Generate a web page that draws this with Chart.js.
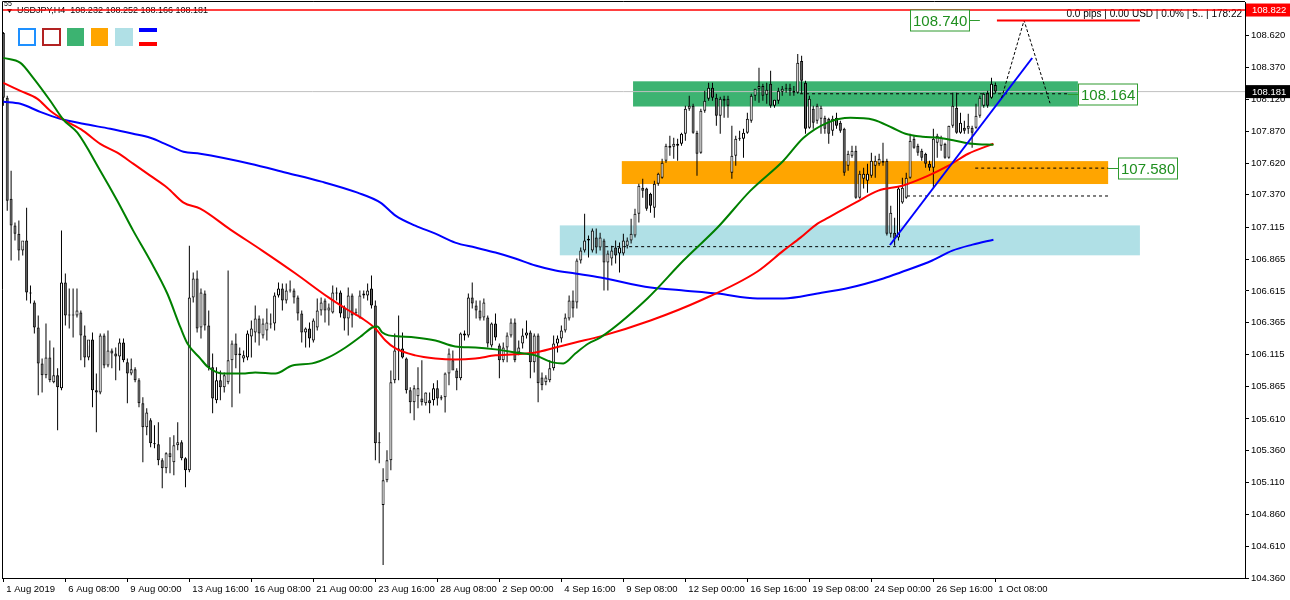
<!DOCTYPE html>
<html>
<head>
<meta charset="utf-8">
<script src="https://cdn.jsdelivr.net/npm/chart.js@4.4.0/dist/chart.umd.min.js"></script>
<style>
  html, body { margin: 0; padding: 0; background: #fff; }
</style>
</head>
<body>
<canvas id="grafico" width="1290" height="600"></canvas>
<script>
// USDJPY H4 - velas (abertura, máxima, mínima, fechamento)
const abertura = [
  108.642, 108.132, 107.340, 107.129, 107.065, 106.932, 107.011, 106.603, 106.524, 106.328,
  106.046, 105.952, 106.093, 105.897, 105.952, 105.850, 106.681, 106.422, 106.430, 106.422,
  106.446, 106.266, 106.093, 106.234, 105.834, 105.818, 106.266, 106.030, 106.148, 106.124,
  106.101, 106.210, 106.054, 105.967, 105.999, 105.913, 105.732, 105.545, 105.599, 105.418,
  105.411, 105.285, 105.222, 105.340, 105.269, 105.403, 105.426, 105.301, 105.207, 106.564,
  106.713, 106.328, 106.595, 106.344, 106.015, 105.756, 105.913, 105.858, 105.897, 106.070,
  106.202, 106.109, 106.085, 106.093, 106.258, 106.289, 106.399, 106.266, 106.305, 106.359,
  106.359, 106.580, 106.634, 106.540, 106.619, 106.619, 106.564, 106.438, 106.289, 106.320,
  106.226, 106.328, 106.462, 106.540, 106.462, 106.446, 106.603, 106.603, 106.485, 106.399,
  106.580, 106.446, 106.407, 106.580, 106.580, 106.634, 106.501, 105.418, 104.933, 105.128,
  105.285, 105.913, 106.148, 106.163, 106.085, 105.834, 105.740, 105.787, 105.771, 105.732,
  105.756, 105.756, 105.850, 105.779, 105.779, 105.967, 106.070, 105.991, 105.929, 106.281,
  106.266, 106.564, 106.501, 106.462, 106.407, 106.407, 106.187, 106.359, 106.187, 106.070,
  106.171, 106.266, 106.367, 106.132, 106.202, 106.266, 106.289, 106.054, 106.266, 105.936,
  105.897, 105.913, 106.007, 106.202, 106.242, 106.305, 106.399, 106.540, 106.524, 106.854,
  106.932, 107.011, 106.932, 107.034, 106.956, 107.011, 106.838, 106.870, 106.956, 106.909,
  106.909, 106.971, 107.011, 107.050, 107.222, 107.426, 107.419, 107.379, 107.269, 107.458,
  107.505, 107.638, 107.756, 107.748, 107.756, 107.771, 107.850, 108.046, 108.070, 107.858,
  107.701, 108.030, 108.124, 108.211, 108.132, 107.991, 108.124, 108.124, 107.544, 107.678,
  107.811, 107.811, 107.858, 107.952, 108.148, 108.203, 108.226, 108.156, 108.242, 108.070,
  108.109, 108.180, 108.203, 108.211, 108.187, 108.172, 108.422, 108.250, 107.897, 108.046,
  107.952, 107.968, 107.975, 107.968, 107.873, 107.975, 107.936, 107.889, 107.599, 107.678,
  107.717, 107.348, 107.497, 107.481, 107.521, 107.599, 107.615, 107.638, 107.638, 107.065,
  107.073, 107.034, 107.309, 107.348, 107.505, 107.811, 107.756, 107.717, 107.693, 107.615,
  107.583, 107.779, 107.756, 107.771, 107.662, 107.913, 108.054, 107.858, 107.897, 107.889,
  107.897, 107.897, 107.991, 108.070, 108.172, 108.132, 108.232
];
const maxima = [
  108.650, 108.148, 107.560, 107.152, 107.168, 106.971, 107.269, 106.658, 106.540, 106.422,
  106.085, 106.359, 106.226, 106.171, 106.007, 107.089, 106.752, 106.634, 106.634, 106.634,
  106.462, 106.344, 106.187, 106.289, 105.967, 106.281, 106.281, 106.305, 106.163, 106.171,
  106.242, 106.242, 106.085, 106.085, 106.015, 105.929, 105.779, 105.693, 105.615, 105.560,
  105.583, 105.301, 105.348, 105.466, 105.482, 105.583, 105.442, 105.309, 106.971, 106.760,
  106.776, 106.634, 106.619, 106.462, 106.124, 106.015, 105.991, 105.975, 106.776, 106.226,
  106.281, 106.171, 106.148, 106.305, 106.383, 106.501, 106.422, 106.399, 106.477, 106.438,
  106.603, 106.681, 106.673, 106.673, 106.697, 106.634, 106.580, 106.462, 106.328, 106.367,
  106.399, 106.556, 106.564, 106.556, 106.516, 106.658, 106.642, 106.619, 106.501, 106.642,
  106.595, 106.477, 106.619, 106.619, 106.673, 106.736, 106.540, 105.505, 105.222, 105.364,
  105.991, 106.281, 106.422, 106.289, 106.093, 105.858, 105.874, 106.015, 106.070, 105.818,
  105.818, 105.889, 105.913, 105.795, 105.975, 106.163, 106.148, 106.007, 106.289, 106.305,
  106.595, 106.681, 106.540, 106.540, 106.556, 106.422, 106.367, 106.438, 106.202, 106.210,
  106.289, 106.399, 106.399, 106.226, 106.320, 106.383, 106.305, 106.281, 106.281, 105.975,
  105.952, 106.070, 106.266, 106.266, 106.344, 106.438, 106.580, 106.619, 106.869, 106.956,
  107.222, 107.050, 107.105, 107.105, 107.073, 107.026, 106.932, 106.971, 107.011, 106.995,
  107.065, 107.034, 107.183, 107.261, 107.458, 107.497, 107.426, 107.387, 107.481, 107.544,
  107.654, 107.771, 107.834, 107.818, 107.810, 107.858, 108.070, 108.148, 108.085, 107.873,
  108.046, 108.187, 108.250, 108.250, 108.164, 108.140, 108.148, 108.148, 107.913, 107.834,
  107.873, 107.889, 108.015, 108.164, 108.203, 108.368, 108.242, 108.250, 108.344, 108.117,
  108.211, 108.226, 108.242, 108.242, 108.226, 108.477, 108.462, 108.266, 108.148, 108.070,
  108.085, 108.070, 107.991, 107.975, 107.991, 108.015, 107.952, 107.897, 107.717, 107.756,
  107.756, 107.560, 107.583, 107.615, 107.701, 107.678, 107.693, 107.779, 107.654, 107.285,
  107.191, 107.434, 107.505, 107.544, 107.850, 107.834, 107.771, 107.732, 107.701, 107.638,
  107.889, 107.850, 107.834, 107.779, 107.913, 108.172, 108.172, 108.015, 107.952, 108.007,
  107.913, 108.085, 108.148, 108.172, 108.187, 108.289, 108.252
];
const minima = [
  108.070, 107.246, 106.854, 107.011, 106.854, 106.893, 106.540, 106.516, 106.281, 105.795,
  105.818, 105.929, 105.897, 105.889, 105.521, 105.834, 106.344, 106.320, 106.250, 106.407,
  106.070, 106.015, 106.070, 105.701, 105.505, 105.803, 106.007, 106.015, 106.007, 105.913,
  105.991, 106.054, 105.732, 105.952, 105.897, 105.701, 105.269, 105.482, 105.387, 105.379,
  105.246, 105.065, 105.183, 105.183, 105.168, 105.364, 105.285, 105.073, 105.191, 106.524,
  106.289, 106.242, 106.305, 105.991, 105.654, 105.732, 105.756, 105.818, 105.882, 105.701,
  106.007, 105.810, 106.054, 106.070, 106.093, 106.210, 106.187, 106.242, 106.226, 106.320,
  106.305, 106.564, 106.462, 106.516, 106.603, 106.516, 106.383, 106.210, 106.171, 106.171,
  106.210, 106.305, 106.422, 106.367, 106.344, 106.438, 106.540, 106.407, 106.305, 106.266,
  106.328, 106.422, 106.399, 106.556, 106.540, 106.477, 105.285, 105.262, 104.462, 105.113,
  105.207, 105.889, 105.913, 106.085, 105.810, 105.654, 105.599, 105.693, 105.716, 105.716,
  105.654, 105.716, 105.716, 105.756, 105.661, 105.874, 105.999, 105.834, 105.913, 106.226,
  106.250, 106.477, 106.399, 106.383, 106.383, 106.171, 106.171, 106.226, 105.929, 106.054,
  106.054, 106.250, 106.054, 106.109, 106.163, 106.242, 105.929, 105.975, 105.740, 105.834,
  105.874, 105.897, 105.991, 106.132, 106.210, 106.289, 106.383, 106.407, 106.477, 106.830,
  106.917, 106.877, 106.917, 106.909, 106.932, 106.619, 106.619, 106.815, 106.830, 106.760,
  106.893, 106.948, 106.987, 107.034, 107.152, 107.348, 107.246, 107.230, 107.191, 107.442,
  107.497, 107.622, 107.678, 107.654, 107.638, 107.756, 107.795, 108.030, 107.850, 107.521,
  107.693, 108.015, 108.109, 108.109, 107.913, 107.850, 107.975, 107.975, 107.497, 107.599,
  107.795, 107.662, 107.850, 107.936, 108.109, 108.093, 108.109, 108.085, 108.054, 108.054,
  108.085, 108.148, 108.172, 108.148, 108.148, 108.164, 108.164, 107.850, 107.889, 107.889,
  107.928, 107.850, 107.850, 107.771, 107.834, 107.889, 107.858, 107.521, 107.560, 107.662,
  107.340, 107.340, 107.419, 107.387, 107.505, 107.505, 107.599, 107.599, 107.050, 107.034,
  106.971, 107.011, 107.301, 107.340, 107.497, 107.732, 107.678, 107.638, 107.583, 107.560,
  107.426, 107.662, 107.717, 107.654, 107.654, 107.897, 107.850, 107.850, 107.850, 107.850,
  107.740, 107.889, 107.975, 108.054, 108.054, 108.124, 108.166
];
const fechamento = [
  108.132, 107.324, 107.129, 107.065, 106.932, 107.011, 106.603, 106.595, 106.328, 106.046,
  105.952, 106.093, 105.913, 105.952, 105.858, 106.681, 106.422, 106.430, 106.422, 106.462,
  106.266, 106.093, 106.234, 105.834, 105.818, 106.266, 106.030, 106.148, 106.124, 106.101,
  106.210, 106.070, 105.967, 105.999, 105.913, 105.732, 105.545, 105.661, 105.418, 105.411,
  105.285, 105.222, 105.340, 105.309, 105.403, 105.426, 105.301, 105.207, 106.564, 106.713,
  106.320, 106.603, 106.344, 106.015, 105.771, 105.913, 105.858, 105.952, 106.070, 106.202,
  106.109, 106.124, 106.109, 106.281, 106.320, 106.399, 106.281, 106.359, 106.367, 106.352,
  106.580, 106.634, 106.540, 106.619, 106.627, 106.564, 106.438, 106.289, 106.320, 106.242,
  106.383, 106.462, 106.524, 106.462, 106.485, 106.603, 106.595, 106.438, 106.399, 106.580,
  106.422, 106.444, 106.580, 106.595, 106.619, 106.501, 105.418, 105.426, 105.128, 105.285,
  105.897, 106.148, 106.163, 106.093, 105.834, 105.740, 105.850, 105.850, 105.740, 105.818,
  105.732, 105.850, 105.771, 105.771, 105.967, 106.124, 105.991, 105.929, 106.281, 106.266,
  106.564, 106.516, 106.462, 106.399, 106.524, 106.202, 106.359, 106.250, 106.070, 106.171,
  106.266, 106.367, 106.070, 106.171, 106.266, 106.289, 106.054, 106.266, 105.889, 105.874,
  105.936, 106.007, 106.202, 106.242, 106.305, 106.407, 106.540, 106.477, 106.854, 106.932,
  107.011, 107.026, 107.089, 106.956, 107.034, 106.838, 106.909, 106.932, 106.893, 106.956,
  107.011, 107.011, 107.065, 107.222, 107.442, 107.403, 107.261, 107.285, 107.458, 107.536,
  107.622, 107.756, 107.740, 107.771, 107.771, 107.850, 108.046, 108.070, 107.858, 107.693,
  108.030, 108.109, 108.211, 108.132, 107.991, 108.124, 108.109, 108.070, 107.678, 107.811,
  107.818, 107.858, 107.968, 108.148, 108.203, 108.226, 108.148, 108.195, 108.070, 108.117,
  108.187, 108.203, 108.211, 108.187, 108.172, 108.407, 108.266, 107.889, 108.124, 107.936,
  108.070, 108.054, 107.889, 107.850, 107.968, 107.913, 107.873, 107.544, 107.693, 107.717,
  107.348, 107.536, 107.536, 107.536, 107.638, 107.638, 107.654, 107.622, 107.065, 107.230,
  107.026, 107.419, 107.426, 107.505, 107.795, 107.740, 107.701, 107.662, 107.615, 107.583,
  107.811, 107.834, 107.818, 107.662, 107.913, 108.070, 107.858, 107.936, 107.873, 107.913,
  107.858, 107.991, 108.132, 108.164, 108.070, 108.242, 108.181
];

// Médias móveis (posição em barras / preço)
const mediaVerdeIdx = [0, 4.4, 7.7, 12.1, 15.5, 19.1, 25, 29.4, 33.5, 37.9, 42.3, 45.7, 47.5, 50.8, 52.9, 56.5, 61.7, 65, 70.2, 74.6, 79.7, 83.9, 88.3, 92.6, 95.2, 96.5, 97.8, 99.4, 102.5, 106.3, 111.5, 116.6, 121.8, 127, 132.1, 137.3, 141.7, 144.5, 147.6, 151, 154.1, 166.2, 175.5, 184.3, 192.8, 201.3, 206.5, 212.6, 218.6, 224.5, 229.4, 232.8, 237.2, 241.3, 245.7, 250.1, 255.5];
const mediaVerde = [108.446, 108.407, 108.289, 108.109, 107.960, 107.858, 107.560, 107.324, 107.089, 106.854, 106.595, 106.328, 106.202, 106.085, 106.015, 105.967, 105.967, 105.975, 105.967, 106.030, 106.046, 106.093, 106.171, 106.266, 106.328, 106.336, 106.289, 106.266, 106.258, 106.250, 106.226, 106.179, 106.171, 106.156, 106.132, 106.109, 106.054, 106.046, 106.124, 106.202, 106.250, 106.556, 106.854, 107.113, 107.403, 107.638, 107.818, 107.936, 107.975, 107.960, 107.897, 107.850, 107.826, 107.818, 107.795, 107.771, 107.763];
const mediaVermelhaIdx = [0, 4.4, 8.8, 12.1, 15.5, 20.6, 25, 29.4, 33.5, 37.9, 42.3, 46.5, 50.8, 58.6, 66.8, 75.4, 83.9, 88.3, 92.6, 96, 98.6, 101.2, 106.3, 111.5, 116.6, 121.8, 127, 132.1, 137.3, 142.5, 147.6, 154.1, 167, 179.9, 194.6, 201.3, 205.7, 210.1, 212.9, 219.9, 225.8, 232, 238.7, 243.9, 249, 255.5];
const mediaVermelha = [108.250, 108.187, 108.124, 108.030, 107.960, 107.873, 107.771, 107.701, 107.615, 107.521, 107.426, 107.309, 107.262, 107.097, 106.932, 106.752, 106.564, 106.477, 106.399, 106.320, 106.226, 106.163, 106.109, 106.085, 106.077, 106.085, 106.109, 106.117, 106.132, 106.171, 106.210, 106.258, 106.383, 106.540, 106.768, 106.932, 107.034, 107.144, 107.191, 107.309, 107.403, 107.442, 107.521, 107.599, 107.693, 107.771];
const mediaAzulIdx = [0, 4.4, 9.5, 14.7, 20.6, 27.6, 33.5, 37.9, 42.3, 46.5, 50.8, 63.7, 73, 82.1, 91.4, 97.3, 101.2, 106.3, 111.5, 116.6, 121.8, 127, 132.1, 137.3, 142.5, 147.6, 154.1, 167, 175.5, 184.3, 194.6, 201.3, 210.1, 218.6, 227.1, 231.5, 239.7, 244.9, 250.1, 255.5];
const mediaAzul = [108.101, 108.085, 108.022, 107.968, 107.928, 107.889, 107.850, 107.818, 107.763, 107.709, 107.693, 107.615, 107.544, 107.474, 107.387, 107.309, 107.207, 107.128, 107.065, 106.995, 106.956, 106.917, 106.870, 106.815, 106.776, 106.752, 106.721, 106.642, 106.619, 106.595, 106.556, 106.556, 106.595, 106.642, 106.713, 106.760, 106.854, 106.932, 106.979, 107.018];

// Eixos
const rotulosXIdx = [0, 16, 32, 48, 64, 80, 96, 112, 128, 144, 160, 176, 192, 208, 224, 240, 256];
const rotulosX = ['1 Aug 2019', '6 Aug 08:00', '9 Aug 00:00', '13 Aug 16:00', '16 Aug 08:00', '21 Aug 00:00',
  '23 Aug 16:00', '28 Aug 08:00', '2 Sep 00:00', '4 Sep 16:00', '9 Sep 08:00', '12 Sep 00:00',
  '16 Sep 16:00', '19 Sep 08:00', '24 Sep 00:00', '26 Sep 16:00', '1 Oct 08:00'];
const ticksY = [104.360, 104.610, 104.860, 105.110, 105.360, 105.610, 105.865, 106.115, 106.365,
  106.615, 106.865, 107.115, 107.370, 107.620, 107.870, 108.120, 108.370, 108.620];

// Objetos desenhados no gráfico
const precoTopo = 108.822;
const precoAtual = 108.181;
const zonas = [
  { de: 162.5, ate: 277.3, topo: 108.262, base: 108.064, cor: '#3cb371' },
  { de: 159.6, ate: 285.1, topo: 107.635, base: 107.455, cor: '#ffa500' },
  { de: 143.6, ate: 293.3, topo: 107.130, base: 106.895, cor: '#b0e0e6' }
];
const rotulosPreco = [
  { texto: '108.740', preco: 108.740, caixa: 233.9, linha: [248.9, 252.0] },
  { texto: '108.164', preco: 108.164, caixa: 277.3, linha: [274.7, 277.3] },
  { texto: '107.580', preco: 107.580, caixa: 287.7, linha: [285.1, 287.7] }
];

const X_MIN = -0.35, X_MAX = 320.42;
const fonte = "'Liberation Sans', Arial, sans-serif";

const indices = abertura.map((_, i) => i);
const pavios = indices.map(i => ({ x: i, y: [minima[i], maxima[i]] }));
const corpos = indices.map(i => ({ x: i, y: [abertura[i], fechamento[i]] }));
const coresCorpo = indices.map(i => fechamento[i] >= abertura[i] ? '#ffffff' : '#666666');

function serie(idx, valores) {
  return idx.map((v, k) => ({ x: v, y: valores[k] }));
}
function linhaReta(pontos, cor, largura, tracejado, ordem) {
  return {
    type: 'line',
    data: pontos.map(p => ({ x: p[0], y: p[1] })),
    borderColor: cor,
    borderWidth: largura,
    borderDash: tracejado || [],
    pointRadius: 0,
    tension: 0,
    order: ordem
  };
}

const desenhos = {
  id: 'desenhos',
  beforeDatasetsDraw(chart) {
    const { ctx, chartArea: a, scales: { x, y } } = chart;
    ctx.save();
    ctx.beginPath();
    ctx.rect(a.left, a.top, a.right - a.left, a.bottom - a.top);
    ctx.clip();
    zonas.forEach(z => {
      const x0 = x.getPixelForValue(z.de), x1 = x.getPixelForValue(z.ate);
      const y0 = y.getPixelForValue(z.topo), y1 = y.getPixelForValue(z.base);
      ctx.fillStyle = z.cor;
      ctx.fillRect(x0, y0, x1 - x0, y1 - y0);
    });
    ctx.restore();

    // cabeçalho
    ctx.save();
    ctx.fillStyle = '#000';
    ctx.textBaseline = 'middle';
    ctx.font = '7px ' + fonte;
    ctx.fillText('55', 4, 4);
    ctx.beginPath();
    ctx.moveTo(7, 9); ctx.lineTo(12, 9); ctx.lineTo(9.5, 13); ctx.closePath();
    ctx.fill();
    ctx.font = '9px ' + fonte;
    ctx.fillText('USDJPY,H4  108.232 108.252 108.166 108.181', 17, 10.5);
    ctx.textAlign = 'right';
    ctx.font = '10px ' + fonte;
    ctx.fillText('0.0 pips | 0.00 USD | 0.0% | 5.. | 178:22', 1242, 14.5);
    ctx.restore();
  },
  afterDraw(chart) {
    const { ctx, chartArea: a, scales: { x, y } } = chart;
    ctx.save();

    // moldura esquerda e superior
    ctx.strokeStyle = '#000';
    ctx.lineWidth = 1;
    ctx.beginPath();
    ctx.moveTo(a.left + 0.5, a.bottom);
    ctx.lineTo(a.left + 0.5, a.top - 0.5);
    ctx.lineTo(a.right, a.top - 0.5);
    ctx.stroke();

    // rótulos de preço com caixa verde
    ctx.font = '15px ' + fonte;
    ctx.textBaseline = 'middle';
    ctx.textAlign = 'left';
    rotulosPreco.forEach(r => {
      const py = Math.round(y.getPixelForValue(r.preco)) + 0.5;
      const bx = Math.round(x.getPixelForValue(r.caixa)) + 0.5;
      const w = Math.ceil(ctx.measureText(r.texto).width) + 4;
      ctx.strokeStyle = '#2e9a2e';
      ctx.beginPath();
      ctx.moveTo(x.getPixelForValue(r.linha[0]), py);
      ctx.lineTo(x.getPixelForValue(r.linha[1]), py);
      ctx.stroke();
      ctx.fillStyle = '#fff';
      ctx.fillRect(bx, py - 10.5, w, 21);
      ctx.strokeRect(bx, py - 10.5, w, 21);
      ctx.fillStyle = '#1f8f1f';
      ctx.fillText(r.texto, bx + 2.5, py + 1);
    });

    // etiquetas no eixo de preço
    ctx.font = '9.5px ' + fonte;
    [[precoTopo, '#ff0000'], [precoAtual, '#000000']].forEach(([p, cor]) => {
      const py = y.getPixelForValue(p);
      ctx.fillStyle = cor;
      ctx.fillRect(a.right + 1, py - 6.5, 45, 13);
      ctx.fillStyle = '#fff';
      ctx.fillText(p.toFixed(3), a.right + 7, py + 0.5);
    });

    // ícones do canto superior esquerdo
    ctx.lineWidth = 2;
    ctx.strokeStyle = '#1e90ff';
    ctx.strokeRect(19, 29, 16, 16);
    ctx.strokeStyle = '#b22222';
    ctx.strokeRect(43, 29, 17, 16);
    ctx.fillStyle = '#3cb371'; ctx.fillRect(67, 28, 17, 18);
    ctx.fillStyle = '#ffa500'; ctx.fillRect(91, 28, 17, 18);
    ctx.fillStyle = '#b0e0e6'; ctx.fillRect(115, 28, 18, 18);
    ctx.fillStyle = '#0000ff'; ctx.fillRect(139, 28, 18, 4);
    ctx.fillStyle = '#ff0000'; ctx.fillRect(139, 42, 18, 4);
    ctx.restore();
  }
};

const ctx = document.getElementById('grafico').getContext('2d');
const chart = new Chart(ctx, {
  type: 'bar',
  data: {
    datasets: [
      linhaReta([[X_MIN, precoAtual], [X_MAX, precoAtual]], '#c0c0c0', 1, null, 12),
      {
        label: 'pavios',
        data: pavios,
        backgroundColor: '#000000',
        barThickness: 1,
        grouped: false,
        minBarLength: 1,
        inflateAmount: 0,
        order: 11
      },
      {
        label: 'corpos',
        data: corpos,
        backgroundColor: coresCorpo,
        borderColor: '#000000',
        borderWidth: 1,
        borderSkipped: false,
        barThickness: 3,
        grouped: false,
        minBarLength: 1,
        inflateAmount: 0,
        order: 10
      },
      linhaReta([[205.6, 108.164], [274.7, 108.164]], '#000', 1, [3, 3], 6),
      linhaReta([[250.8, 107.580], [285.1, 107.580]], '#000', 1, [3, 3], 6),
      linhaReta([[233.2, 107.361], [285.1, 107.361]], '#000', 1, [3, 3], 6),
      linhaReta([[155.3, 106.963], [244.8, 106.963]], '#000', 1, [3, 3], 6),
      {
        type: 'line', data: serie(mediaAzulIdx, mediaAzul), borderColor: '#0000ff',
        borderWidth: 2, pointRadius: 0, cubicInterpolationMode: 'monotone', order: 5
      },
      {
        type: 'line', data: serie(mediaVermelhaIdx, mediaVermelha), borderColor: '#ff0000',
        borderWidth: 2, pointRadius: 0, cubicInterpolationMode: 'monotone', order: 4
      },
      {
        type: 'line', data: serie(mediaVerdeIdx, mediaVerde), borderColor: '#008000',
        borderWidth: 2, pointRadius: 0, cubicInterpolationMode: 'monotone', order: 3
      },
      linhaReta([[257.6, 108.130], [263.4, 108.740], [270.1, 108.090]], '#000', 1, [3, 2], 2),
      linhaReta([[228.8, 106.976], [265.5, 108.445]], '#0000ff', 2, null, 2),
      linhaReta([[256.4, 108.740], [293.3, 108.740]], '#ff0000', 2, null, 1),
      linhaReta([[X_MIN, precoTopo], [X_MAX, precoTopo]], '#ff0000', 1.5, null, 1)
    ]
  },
  options: {
    responsive: false,
    animation: false,
    devicePixelRatio: 1,
    layout: { padding: { left: 2, top: 2, right: 0, bottom: 0 } },
    plugins: {
      legend: { display: false },
      tooltip: { enabled: false },
      title: { display: false }
    },
    scales: {
      x: {
        type: 'linear',
        position: 'bottom',
        min: X_MIN,
        max: X_MAX,
        bounds: 'data',
        offset: false,
        afterBuildTicks: s => { s.ticks = rotulosXIdx.map(v => ({ value: v })); },
        afterFit: s => { s.height = 22; s.paddingLeft = 0; s.paddingRight = 0; },
        grid: { drawOnChartArea: false, drawTicks: true, tickLength: 4, color: '#000', offset: false },
        border: { color: '#000', width: 1 },
        ticks: {
          autoSkip: false,
          maxRotation: 0,
          align: 'start',
          labelOffset: 3,
          padding: 2,
          color: '#000',
          font: { family: fonte, size: 9.5 },
          callback: (valor, i) => rotulosX[i]
        }
      },
      y: {
        type: 'linear',
        position: 'right',
        min: 104.36,
        max: 108.885,
        bounds: 'data',
        afterBuildTicks: s => { s.ticks = ticksY.map(v => ({ value: v })); },
        afterFit: s => { s.width = 45; s.paddingTop = 0; s.paddingBottom = 0; },
        grid: { drawOnChartArea: false, drawTicks: true, tickLength: 4, color: '#000' },
        border: { color: '#000', width: 1 },
        ticks: {
          padding: 2,
          color: '#000',
          font: { family: fonte, size: 9.5 },
          callback: v => v.toFixed(3)
        }
      }
    }
  },
  plugins: [desenhos]
});
</script>
</body>
</html>
